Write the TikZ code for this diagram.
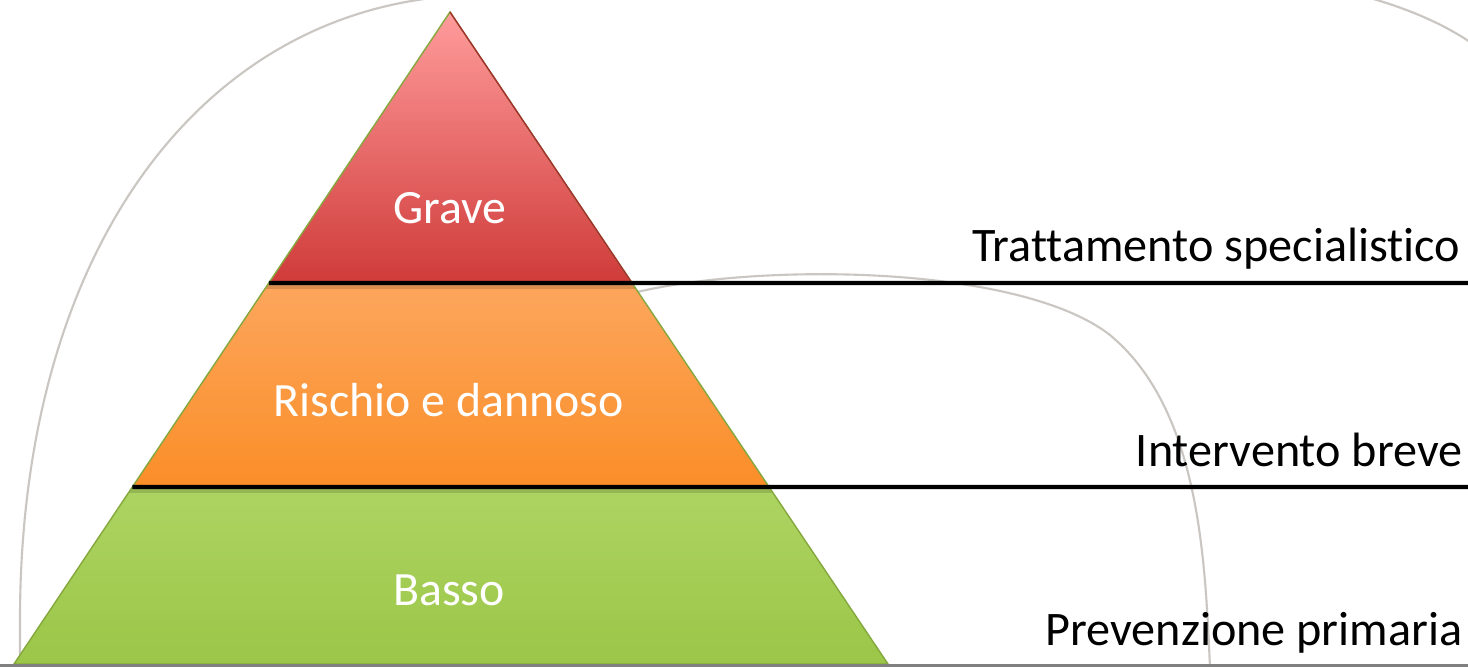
\documentclass[tikz,border=0pt]{standalone}
\usepackage{fontspec}
\setmainfont{Carlito}[Ligatures=NoCommon]
\usepackage{xcolor}
\usepackage{tikz}
\usetikzlibrary{calc}
\usetikzlibrary{positioning}

\definecolor{redtop}{HTML}{FF9C9C}
\definecolor{redbot}{HTML}{CF3B39}
\definecolor{orangetop}{HTML}{FCA65D}
\definecolor{orangebot}{HTML}{FB8E28}
\definecolor{greentop}{HTML}{ADD462}
\definecolor{greenbot}{HTML}{9BC648}
\definecolor{swooshgray}{HTML}{CAC6C1}

\tikzset{
	bandtext/.style={text=white, font=\fontsize{13.6}{16}\selectfont},
	leveltext/.style={text=black, font=\fontsize{13.7}{16}\selectfont, anchor=base east, inner sep=0pt},
	divider/.style={black, line width=1.15pt},
	swoosh/.style={swooshgray, line width=0.6pt},
}

\begin{document}
\begin{tikzpicture}[x=0.01cm, y=-0.01cm]

	\def\ya{283}
	\def\yb{487}
	\def\yc{664}
	\def\xe{1468}

	\clip (0,0) rectangle (\xe,667);
	\fill[white] (0,0) rectangle (\xe,667);

	\coordinate (apex) at (450,12);
	\coordinate (bl) at (14,\yc);
	\coordinate (br) at (888,\yc);

	\coordinate (aL) at ($(apex)!{(\ya-12)/(\yc-12)}!(bl)$);
	\coordinate (aR) at ($(apex)!{(\ya-12)/(\yc-12)}!(br)$);
	\coordinate (bL) at ($(apex)!{(\yb-12)/(\yc-12)}!(bl)$);
	\coordinate (aE) at (\xe,\ya);
	\coordinate (bE) at (\xe,\yb);

	\draw[swoosh] (20,667) -- (20,620) .. controls (20,238) and (213,-3) .. (480,-5);
	\draw[swoosh] (633,293) .. controls (760,262) and (1020,265) .. (1110,335)
		.. controls (1200,410) and (1205,560) .. (1210,667);
	\draw[swoosh] (1370,-2) .. controls (1405,8) and (1440,22) .. (1470,42);

	\begin{scope}
		\clip (apex) -- (bl) -- (br) -- cycle;
		\shade[top color=redtop, bottom color=redbot] (0,12) rectangle (900,\ya);
		\shade[top color=orangetop, bottom color=orangebot] (0,\ya) rectangle (900,\yb);
		\shade[top color=greentop, bottom color=greenbot] (0,\yb) rectangle (900,\yc);
		\foreach \y in {\ya, \yb}
			\fill[black, opacity=0.14] (0,\y) rectangle (900,\y+6);
	\end{scope}

	\draw[greenbot!85!black, line width=0.4pt] (apex) -- (bl) -- (br) -- cycle;
	\draw[redbot!80!black, line width=0.4pt] (apex) -- (aR);

	\draw[divider] (aL) -- (aE);
	\draw[divider] (bL) -- (bE);
	\draw[black!50, line width=0.6pt] (0,665.5) -- (\xe,665.5);

	\node[bandtext] (grave) at (450,208) {Grave};
	\node[bandtext] (rischio) at (449,400) {Rischio e dannoso};
	\node[bandtext] (basso) at (449,590) {Basso};

	\node[leveltext] (tratt) at (1461,262) {Trattamento specialistico};
	\node[leveltext] (interv) at (1463,467) {Intervento breve};
	\node[leveltext] (prev) at (1463,646) {Prevenzione primaria};

%	\draw[help lines, step=100] (0,0) grid (\xe,667);

\end{tikzpicture}
\end{document}
